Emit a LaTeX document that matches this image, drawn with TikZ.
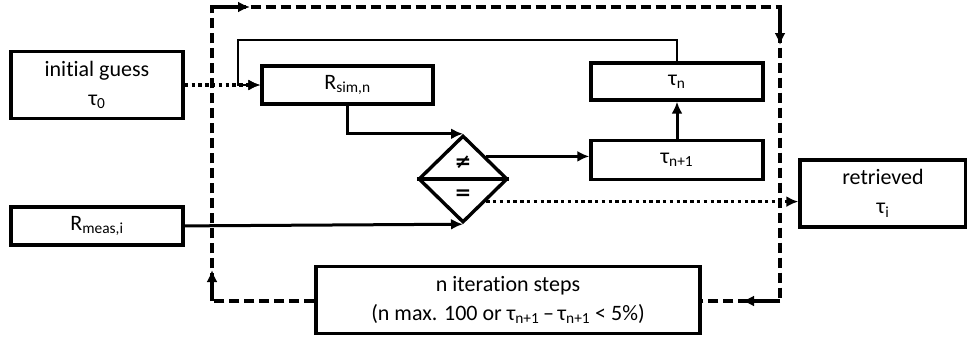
\documentclass[tikz,border=0pt]{standalone}
\usepackage{fontspec}
\setmainfont{Carlito}[Ligatures=NoCommon]
\newfontfamily\symfont{DejaVu Sans}
\usetikzlibrary{shapes.geometric, arrows.meta, positioning, calc}
\tikzstyle{block} = [rectangle, draw=black, line width=3.4pt, minimum width=172pt, minimum height=38pt, inner sep=0pt, text centered, align=center, font=\fontsize{22}{29}\selectfont]
\tikzstyle{bigblock} = [block, minimum height=67pt]
\tikzstyle{compare} = [diamond, draw=black, line width=3.4pt, minimum width=89pt, minimum height=87pt, inner sep=0pt]
\tikzstyle{signlabel} = [font=\symfont\bfseries\fontsize{20}{20}\selectfont, inner sep=0pt]
\tikzstyle{arrow} = [line width=3pt, -{Latex[length=12pt,width=11pt]}]
\tikzstyle{thin_arrow} = [arrow, line width=2.5pt]
\tikzstyle{dotted_arrow} = [arrow, line width=3.4pt, dash pattern=on 3.4pt off 3.4pt]
\tikzstyle{loop_line} = [line width=3.4pt, dash pattern=on 10pt off 5pt]
\tikzstyle{loop_arrow} = [line width=3.4pt, -{Latex[length=12pt,width=11pt]}]

\begin{document}
\begin{tikzpicture}[x=1pt, y=-1pt]
\useasboundingbox (0,0) rectangle (967,340);

% --- Inputs ---
\node (guess) [bigblock] at (97,85) {initial guess\\τ\textsubscript{0}};
\node (rmeas) [block, below=85pt of guess] {R\textsubscript{meas,i}};

% --- Iteration ---
\node (rsim) [block, minimum width=171pt] at (347.5,85) {R\textsubscript{sim,n}};
\node (taun) [block, minimum height=37pt] at (677,81.5) {τ\textsubscript{n}};
\node (taun1) [block, minimum height=39pt, below=37pt of taun] {τ\textsubscript{n+1}};

\node (cmp) [compare] at (463,179) {};
\draw [line width=3.4pt] (cmp.west) -- (cmp.east);
\node (neq) [signlabel] at (463,162) {≠};
\node (eq) [signlabel] at (463,195) {=};

% --- Output ---
\node (retrieved) [bigblock, minimum width=166pt] at (883,193.5) {retrieved\\τ\textsubscript{i}};

% --- Loop control ---
\node (iter) [bigblock, minimum width=384pt] at (508,300) {n iteration steps\\(n max. 100 or τ\textsubscript{n+1}\,–\,τ\textsubscript{n+1} < 5\%)};

\coordinate (lb) at (212,301);
\coordinate (lt) at (212,7);
\coordinate (rt) at (780,7);
\coordinate (rb) at (780,301);
\coordinate (fb) at (238,40);

% --- Connections ---
\draw [loop_line] (iter.west |- lb) -- (lb) -- (lt) -- (rt) -- (rb) -- (iter.east |- rb);
\draw [loop_arrow] (lb) -- ++(0,-31);
\draw [loop_arrow] (lt) -- ++(38,0);
\draw [loop_arrow] (rt) -- ++(0,38);
\draw [loop_arrow] (rb) -- ++(-38,0);

\draw [thin_arrow] (taun.north) |- (fb) |- (rsim.west);
\draw [dotted_arrow] (guess.east) -- (rsim.west);
\draw [arrow] (rsim.south) |- (cmp.north);
\draw [arrow] (rmeas.east) -- (cmp.south);
\draw [arrow] (cmp.north east) -- (cmp.north east -| taun1.west);
\draw [arrow] (taun1) -- (taun);
\draw [dotted_arrow] (cmp.south east) -- (cmp.south east -| retrieved.west);

\end{tikzpicture}
\end{document}
